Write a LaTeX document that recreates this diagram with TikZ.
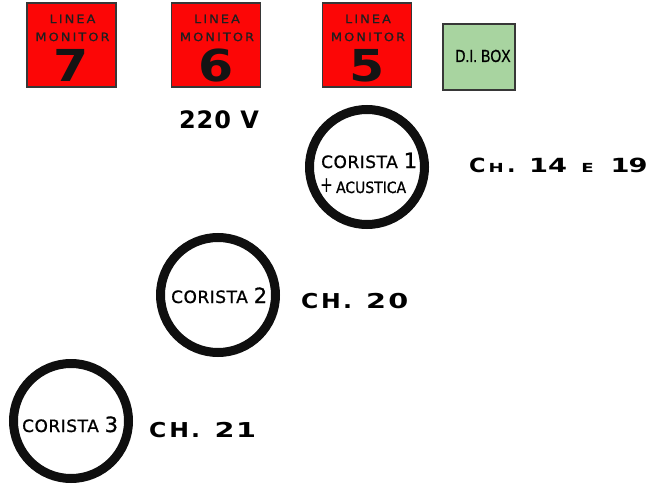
\documentclass[tikz,border=0pt]{standalone}
\usepackage{fontspec}
\newfontfamily\labfont[FakeStretch=1.12,LetterSpace=18,FakeBold=0.8]{DejaVu Sans}
\newfontfamily\chL[FakeStretch=1.15]{DejaVu Sans Bold}
\newfontfamily\chD[FakeStretch=1.4]{DejaVu Sans Bold}
\newfontfamily\chS[FakeStretch=1.45]{DejaVu Sans Bold}
\newfontfamily\corfont[LetterSpace=3,FakeBold=0.9]{DejaVu Sans}
\newfontfamily\acfont[FakeStretch=0.9,FakeBold=0.9]{DejaVu Sans}
\newfontfamily\plusfont[FakeStretch=0.7]{DejaVu Sans}
\newfontfamily\voltfont[LetterSpace=4]{DejaVu Sans Bold}
\newfontfamily\digfont[FakeStretch=1.15]{DejaVu Sans Bold}
\newfontfamily\difont[FakeStretch=0.8,FakeBold=0.8]{Liberation Sans}
\definecolor{monred}{RGB}{252,6,6}
\definecolor{digreen}{RGB}{168,212,160}
\definecolor{edge}{RGB}{55,55,55}
\tikzset{
  monbox/.style={draw=edge, line width=1.8pt, fill=monred, minimum width=89pt, minimum height=84pt, inner sep=0pt},
  dibox/.style={draw=edge, line width=1.8pt, fill=digreen, minimum width=72pt, minimum height=66pt, inner sep=0pt},
  singer/.style={circle, draw=black!94, line width=9pt, fill=white, minimum size=115pt, inner sep=0pt},
  montext/.style={font=\labfont\fontsize{11.5}{11.5}\selectfont, text=black!88, inner sep=0pt, anchor=base},
  digtext/.style={font=\digfont\fontsize{44}{44}\selectfont, text=black!92, inner sep=0pt, anchor=base},
  cortext/.style={font=\corfont\fontsize{17}{17}\selectfont, text=black, inner sep=0pt, anchor=base west},
  chtext/.style={font=\chL\fontsize{20.5}{20.5}\selectfont, text=black, inner sep=0pt, anchor=base west},
  ditext/.style={font=\difont\fontsize{17.5}{17.5}\selectfont, text=black, inner sep=0pt, anchor=base},
}
\newcommand{\cordig}[1]{{\fontsize{21}{21}\selectfont #1}}
\begin{document}
\begin{tikzpicture}[x=1pt,y=-1pt]
\useasboundingbox (0,0) rectangle (656,484);
% monitor boxes
\node[monbox] (m7) at (71.5,45) {};
\node[monbox] (m6) at (216,45) {};
\node[monbox] (m5) at (367,45) {};
\node[dibox] (di) at (479,57) {};
\foreach \b/\d in {m7/7, m6/6, m5/5}{
  \node[montext] (\b l) at ([xshift=1pt,yshift=-21pt]\b.north) {LINEA};
  \node[montext] (\b m) at ([xshift=1pt,yshift=-39pt]\b.north) {MONITOR};
  \node[digtext] (\b d) at ([yshift=-79pt]\b.north) {\d};
}
\node[ditext] (dit) at (483,62) {D.I. BOX};
% 220 V
\node[font=\voltfont\fontsize{24}{24}\selectfont, inner sep=0pt, anchor=base] (v220) at (219,129) {220 V};
% singers
\node[singer] (c1) at (367,167) {};
\node[singer] (c2) at (218,295) {};
\node[singer] (c3) at (71,421) {};
\node[cortext] (c1a) at (321,168) {CORISTA \cordig{1}};
\node[cortext] (c1b) at (320,193) {{\plusfont\fontsize{22}{22}\selectfont +}\hspace{3pt}{\acfont\fontsize{15.5}{15.5}\selectfont ACUSTICA}};
\node[cortext] (c2a) at (171,303) {CORISTA \cordig{2}};
\node[cortext] (c3a) at (22,432) {CORISTA \cordig{3}};
% channels
\node[chtext] (ch1) at (469,172) {\fontsize{19.5}{19.5}\selectfont C\hspace{3pt}{\chS\fontsize{12.5}{12.5}\selectfont H}\hspace{3.4pt}.\hspace{13.3pt}{\chD 14}\hspace{14.4pt}{\chS\fontsize{12.5}{12.5}\selectfont E}\hspace{16.7pt}{\chD 1\hspace{-1pt}9}};
\node[chtext] (ch2) at (301,308) {C\hspace{2.7pt}H\hspace{2.3pt}.\hspace{14pt}{\chD 2\hspace{2.3pt}0}};
\node[chtext] (ch3) at (149,437) {C\hspace{3pt}H\hspace{2pt}.\hspace{14.5pt}{\chD 2\hspace{1.6pt}1}};
\end{tikzpicture}
\end{document}
